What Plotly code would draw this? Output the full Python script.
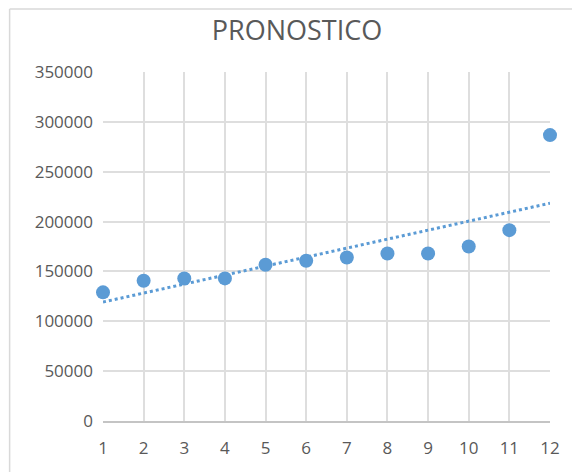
import numpy as np
import plotly.graph_objects as go

periods = [1, 2, 3, 4, 5, 6, 7, 8, 9, 10, 11, 12]
sales = [129000, 140700, 143000, 143000, 156700, 160700,
         164000, 168000, 168000, 175000, 191400, 286700]
y_ticks = [0, 50000, 100000, 150000, 200000, 250000, 300000, 350000]
title_text = "PRONOSTICO"

W, H = 572, 472
ML, MR, MT, MB = 103, 19, 72, 51
PW, PH = W - ML - MR, H - MT - MB

slope, intercept = np.polyfit(periods, sales, 1)
trend = [slope * x + intercept for x in periods]

blue = "#5B9BD5"
grey_txt = "#595959"
font = "Open Sans, Liberation Sans, sans-serif"

fig = go.Figure()
fig.add_trace(go.Scatter(x=periods, y=trend, mode="lines",
                         line=dict(color=blue, width=3, dash="dot"),
                         hoverinfo="skip", showlegend=False))
fig.add_trace(go.Scatter(x=periods, y=sales, mode="markers",
                         marker=dict(color=blue, size=14),
                         showlegend=False, cliponaxis=False))

def px_x(p):
    return (p - ML) / PW

def px_y(p):
    return (H - MB - p) / PH

border = "#d9d9d9"
fig.add_shape(type="line", xref="paper", yref="paper",
              x0=px_x(9), x1=px_x(9), y0=px_y(9), y1=px_y(H + 5),
              line=dict(color=border, width=1.5))
fig.add_shape(type="line", xref="paper", yref="paper",
              x0=px_x(9), x1=px_x(W + 5), y0=px_y(9), y1=px_y(9),
              line=dict(color=border, width=1.5))

grid = "#dedede"
fig.update_layout(
    width=W, height=H,
    margin=dict(l=ML, r=MR, t=MT, b=MB),
    paper_bgcolor="white", plot_bgcolor="white",
    title=dict(text=title_text, x=297 / W, xanchor="center",
               y=1 - 31 / H, yanchor="middle", yref="container",
               font=dict(family=font, size=27, color=grey_txt)),
    xaxis=dict(range=[1, 12], tickmode="array", tickvals=periods,
               showgrid=True, gridcolor=grid, gridwidth=2,
               zeroline=False, showline=True, linecolor="#c4c4c4",
               linewidth=2, ticks="", ticklabelstandoff=11,
               tickfont=dict(family=font, size=17, color=grey_txt)),
    yaxis=dict(range=[0, 350000], tickmode="array", tickvals=y_ticks,
               showgrid=True, gridcolor=grid, gridwidth=2,
               zeroline=False, showline=False, ticks="",
               ticklabelstandoff=9, tickformat="d",
               tickfont=dict(family=font, size=17, color=grey_txt)),
)

fig.write_html("out.html", config={"displayModeBar": False},
               post_script="document.body.style.margin='0';document.body.style.overflow='hidden';")
